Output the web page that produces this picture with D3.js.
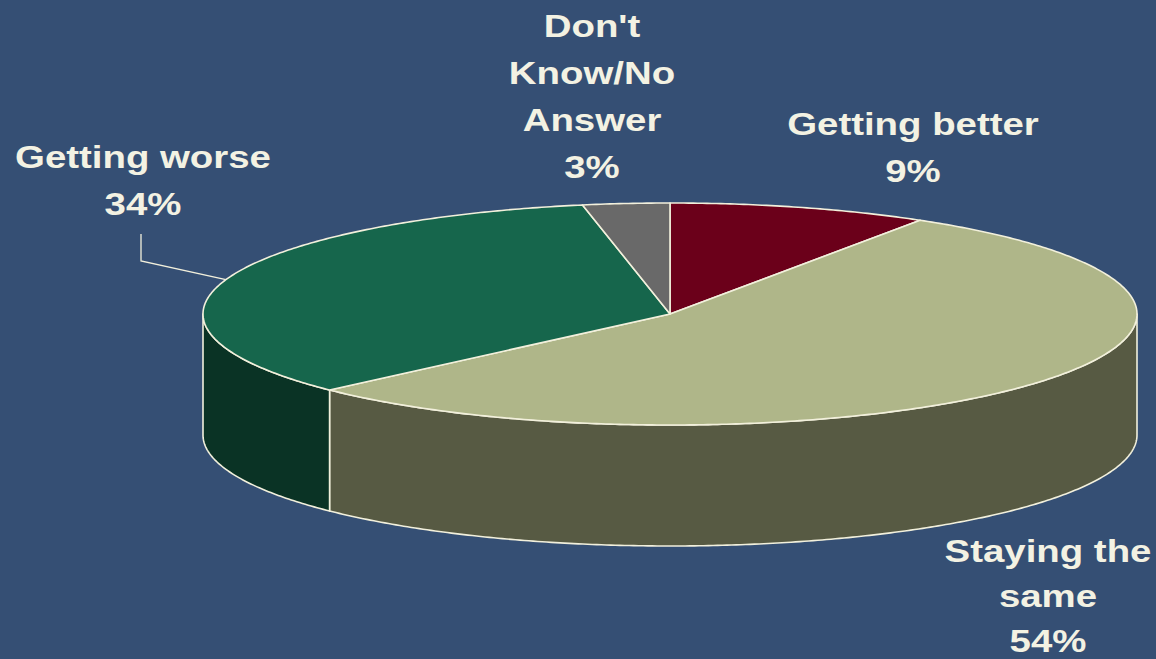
<!DOCTYPE html>
<html>
<head>
<meta charset="utf-8">
<script src="https://cdn.jsdelivr.net/npm/d3@7"></script>
<style>
  html, body { margin: 0; padding: 0; background: #354f74; }
  svg { display: block; }
  text { font-family: "Liberation Sans", Arial, sans-serif; font-weight: bold; fill: #f3f2e3; }
</style>
</head>
<body>
<svg id="chart" width="1156" height="659"></svg>
<script>
// Survey answers
const categories = ["Getting better", "Staying the same", "Getting worse", "Don't Know/No Answer"];
const values = [9, 54, 34, 3];
const labelLines = [
  ["Getting better", "9%"],
  ["Staying the", "same", "54%"],
  ["Getting worse", "34%"],
  ["Don't", "Know/No", "Answer", "3%"]
];

// Slice colours: top face and the darker rim
const topColors  = ["#6b001a", "#afb689", "#16664c", "#696969"];
const sideColors = ["#3a000e", "#575a43", "#0a3325", "#3c3c3c"];

// Layout of the tilted disc
const W = 1156, H = 659;
const cx = 670, cy = 314, rx = 467, ry = 111, depth = 121;
const outline = "#f2f0dc";

// Label anchors (centre x, first baseline, line step)
const labelPos = [
  { x: 913, y: 135, step: 47 },
  { x: 1048, y: 562, step: 45 },
  { x: 143, y: 168, step: 47 },
  { x: 592, y: 37, step: 47 }
];

const svg = d3.select("#chart");
svg.append("rect").attr("width", W).attr("height", H).attr("fill", "#354f74");

const pie = d3.pie().sort(null).value(d => d)(values);

// angle measured clockwise from 12 o'clock
const px = a => cx + rx * Math.sin(a);
const py = a => cy - ry * Math.cos(a);

function arcPoints(a0, a1, dy) {
  const n = Math.max(2, Math.ceil(Math.abs(a1 - a0) / 0.01));
  return d3.range(n + 1).map(i => {
    const a = a0 + (a1 - a0) * i / n;
    return [px(a), py(a) + dy];
  });
}
const line = d3.line();

// Rim: only the front half (from 3 o'clock to 9 o'clock) is visible
const sideG = svg.append("g");
pie.forEach((d, i) => {
  const s = Math.max(d.startAngle, Math.PI / 2);
  const e = Math.min(d.endAngle, 3 * Math.PI / 2);
  if (e <= s) return;
  const pts = arcPoints(s, e, 0).concat(arcPoints(e, s, depth));
  sideG.append("path")
    .attr("d", line(pts) + "Z")
    .attr("fill", sideColors[i])
    .attr("stroke", outline)
    .attr("stroke-width", 1.6)
    .attr("stroke-linejoin", "round");
});

// Top faces
const topG = svg.append("g");
pie.forEach((d, i) => {
  const pts = [[cx, cy]].concat(arcPoints(d.startAngle, d.endAngle, 0));
  topG.append("path")
    .attr("d", line(pts) + "Z")
    .attr("fill", topColors[i])
    .attr("stroke", outline)
    .attr("stroke-width", 1.6)
    .attr("stroke-linejoin", "round");
});

// Leader line for "Getting worse"
const worse = pie[2];
const wa = worse.startAngle + (worse.endAngle - worse.startAngle) * 0.5;
svg.append("polyline")
  .attr("points", [[141, 234], [141, 261], [px(wa), py(wa)]].map(p => p.join(",")).join(" "))
  .attr("fill", "none")
  .attr("stroke", outline)
  .attr("stroke-width", 1.3);

// Labels
const labelG = svg.append("g");
labelLines.forEach((lines, i) => {
  const p = labelPos[i];
  lines.forEach((t, j) => {
    labelG.append("text")
      .attr("transform", `translate(${p.x},${p.y + j * p.step}) scale(1.2,1)`)
      .attr("text-anchor", "middle")
      .attr("font-size", 32)
      .text(t);
  });
});
</script>
</body>
</html>
